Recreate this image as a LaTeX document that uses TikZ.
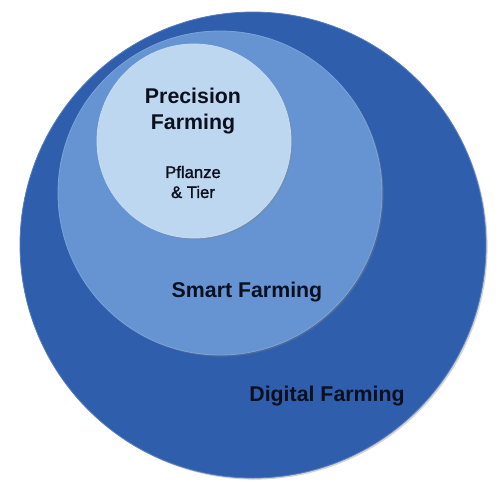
\documentclass[tikz,border=0pt]{standalone}
\usepackage{fontspec}
\setmainfont{Liberation Sans}
\newfontfamily\midweight[FakeBold=1.5]{Liberation Sans}
\usepackage{xcolor}
\usepackage{tikz}
\usetikzlibrary{shadows}

\definecolor{digitalblue}{RGB}{47,94,172}
\definecolor{smartblue}{RGB}{102,148,210}
\definecolor{precblue}{RGB}{190,215,240}
\definecolor{labelink}{RGB}{12,16,30}

\begin{document}
\begin{tikzpicture}[x=0.75pt,y=0.75pt,yscale=-1,xscale=1,
  ring/.style={circle,inner sep=0pt,drop shadow={shadow xshift=1.2pt,shadow yshift=-1.2pt,opacity=0.35}},
  bigtext/.style={text=labelink,font=\fontsize{16}{19.5}\selectfont\bfseries,align=center,inner sep=0.75pt},
  smalltext/.style={text=labelink,font=\fontsize{12.5}{15}\selectfont\midweight,align=center,inner sep=0.75pt}]
\useasboundingbox (0,0) rectangle (500,501);

%Circles
\node [ring,fill=digitalblue,draw=digitalblue!80!white,line width=0.6pt,minimum size=466*0.75pt] (digital) at (253,245) {};
\node [ring,fill=smartblue,draw=smartblue!85!white,line width=0.6pt,minimum size=324*0.75pt] (smart) at (220,193) {};
\node [ring,fill=precblue,draw=precblue!90!white,line width=0.6pt,minimum size=194*0.75pt] (precision) at (194,141) {};

% Text Node
\node [bigtext] (precLabel) at (193,111) {Precision\\Farming};
% Text Node
\node [smalltext] (tierLabel) at (193,182) {Pflanze\\\& Tier};
% Text Node
\node [bigtext] (smartLabel) at (247,292) {Smart Farming};
% Text Node
\node [bigtext] (digitalLabel) at (327,396) {Digital Farming};

\end{tikzpicture}
\end{document}
